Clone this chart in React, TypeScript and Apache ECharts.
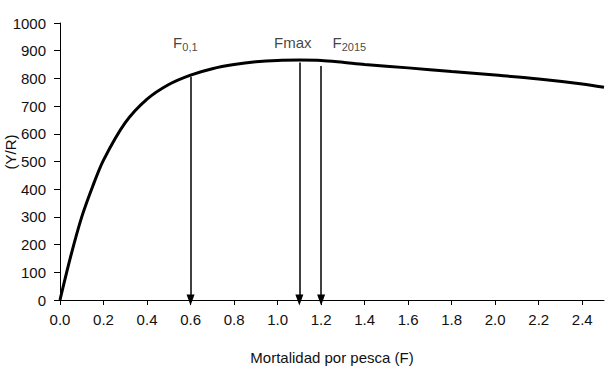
import React, { useEffect, useRef } from "react";
import * as echarts from "echarts";

const fValues = [0, 0.05, 0.1, 0.15, 0.2, 0.3, 0.4, 0.5, 0.6, 0.7, 0.8, 0.9, 1.0, 1.1, 1.2, 1.3, 1.4, 1.6, 1.8, 2.0, 2.2, 2.4, 2.5];
const yrValues = [0, 160, 300, 410, 505, 640, 725, 778, 812, 835, 850, 860, 865, 866, 865, 858, 850, 838, 825, 812, 798, 780, 768];
const xTicks = [0, 0.2, 0.4, 0.6, 0.8, 1.0, 1.2, 1.4, 1.6, 1.8, 2.0, 2.2, 2.4];

const refNames = ["F0,1", "Fmax", "F2015"];
const refF = [0.6, 1.1, 1.2];
const refTop = [806, 857, 845];
const labelF = [0.576, 1.07, 1.33];
const labelY = [928, 928, 928];
const labelText = ["F{s|0,1}", "Fmax", "F{s|2015}"];
const yAxisTitle = "(Y/R)";

export default function App() {
  const ref = useRef<HTMLDivElement>(null);
  useEffect(() => {
    const chart = echarts.init(ref.current!, null, { renderer: "svg" });
    const font = "Liberation Sans";
    chart.setOption({
      animation: false,
      grid: { left: 60, right: 3, top: 23, bottom: 76, outerBoundsMode: "none", containLabel: false },
      graphic: [
        {
          type: "text",
          x: 10,
          y: 152,
          rotation: Math.PI / 2,
          style: {
            text: yAxisTitle,
            fontFamily: font,
            fontSize: 15,
            fill: "#111",
            align: "center",
            verticalAlign: "middle",
          },
        },
      ],
      xAxis: {
        type: "value",
        min: 0,
        max: 2.5,
        interval: 0.2,
        name: "Mortalidad por pesca (F)",
        nameLocation: "middle",
        nameGap: 50,
        nameMoveOverlap: false,
        nameTextStyle: { fontFamily: font, fontSize: 15, color: "#111" },
        axisLine: { lineStyle: { color: "#000", width: 1 } },
        axisTick: { show: true, length: 5, lineStyle: { color: "#000" }, customValues: xTicks },
        axisLabel: {
          fontFamily: font,
          fontSize: 15,
          color: "#111",
          margin: 12,
          customValues: xTicks,
          formatter: (v: number) => v.toFixed(1),
        },
        splitLine: { show: false },
      },
      yAxis: {
        type: "value",
        min: 0,
        max: 1000,
        interval: 100,
        axisLine: { show: true, lineStyle: { color: "#000", width: 1 } },
        axisTick: { show: true, length: 6, lineStyle: { color: "#000" } },
        axisLabel: { fontFamily: font, fontSize: 15, color: "#111", margin: 14, formatter: (v: number) => String(v) },
        splitLine: { show: false },
      },
      series: [
        {
          type: "line",
          data: fValues.map((f, i) => [f, yrValues[i]]),
          smooth: 0.3,
          showSymbol: false,
          lineStyle: { color: "#000", width: 3 },
          markLine: {
            silent: true,
            symbol: ["none", "triangle"],
            symbolSize: [8, 11],
            label: { show: false },
            lineStyle: { color: "#000", width: 1.5, type: "solid" },
            data: refF.map((f, i) => [
              { coord: [f, refTop[i]] },
              { coord: [f, 0] },
            ]),
          },
        },
        {
          type: "scatter",
          symbolSize: 0,
          silent: true,
          data: labelF.map((f, i) => ({ value: [f, labelY[i]], name: refNames[i] })),
          label: {
            show: true,
            position: "inside",
            formatter: (p: any) => labelText[p.dataIndex],
            fontFamily: font,
            fontSize: 15,
            color: "#111",
            rich: {
              s: { fontFamily: font, fontSize: 11, color: "#111", padding: [8, 0, 0, 0] },
            },
          },
        },
      ],
    });
    return () => chart.dispose();
  }, []);
  return <div ref={ref} style={{ width: 607, height: 376, position: "absolute", left: 0, top: 0, background: "#fff" }} />;
}
